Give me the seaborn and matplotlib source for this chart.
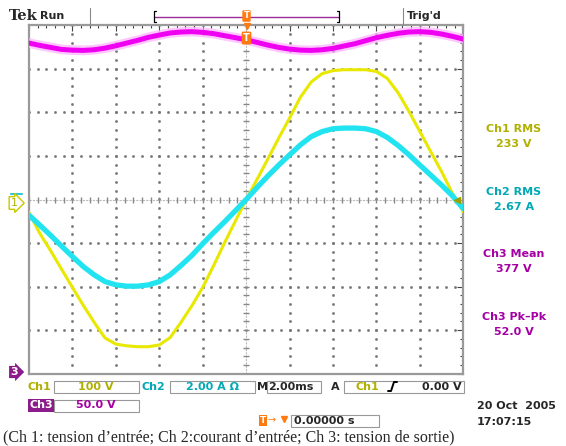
import numpy as np
import pandas as pd
import matplotlib
matplotlib.use("Agg")
import matplotlib.pyplot as plt
from matplotlib.ticker import MultipleLocator
from matplotlib.patches import Rectangle
import seaborn as sns

# time base: 2 ms/div, samples read every 0.5 ms
t_ms = np.arange(-10, 10.01, 0.5)

# Ch1 input voltage (V), 100 V/div
ch1_volts = [-30, -78, -118, -160, -202, -243, -282, -318, -332, -336, -338,
             -338, -334, -317, -282, -244, -202, -152, -100, -50, 0,
             46, 93, 141, 187, 235, 270, 289, 296, 298, 298,
             298, 294, 278, 245, 202, 156, 110, 64, 14, -28]

# Ch2 input current (A), 2 A/div
ch2_amps = [-0.72, -1.18, -1.65, -2.14, -2.62, -3.08, -3.46, -3.77, -3.92, -3.98, -3.98,
            -3.92, -3.77, -3.46, -3.03, -2.57, -2.03, -1.52, -1.03, -0.52, 0.0,
            0.55, 1.08, 1.58, 2.05, 2.51, 2.89, 3.12, 3.25, 3.28, 3.28,
            3.25, 3.12, 2.85, 2.48, 2.05, 1.58, 1.12, 0.66, 0.17, -0.42]

# Ch3 output voltage (V), 50 V/div, ground at bottom of screen
ch3_volts = [379.6, 376.9, 374.6, 372.3, 371.5, 371.2, 371.9, 373.8, 376.5, 379.6, 382.7,
             386.2, 388.8, 391.2, 392.3, 392.7, 391.9, 390.4, 388.1, 385.8, 383.5,
             380.4, 377.3, 374.6, 372.7, 371.5, 371.2, 371.9, 373.5, 376.2, 378.8,
             382.3, 385.8, 388.5, 390.8, 392.3, 392.7, 391.9, 390.0, 387.3, 384.2]

ch1_div, ch2_div, ch3_div = 100.0, 2.0, 50.0
ch3_ground = -4

measures = [("Ch1 RMS", "233 V", "#b0b000"),
            ("Ch2 RMS", "2.67 A", "#00a9b5"),
            ("Ch3 Mean", "377 V", "#a400a4"),
            ("Ch3 Pk\u2013Pk", "52.0 V", "#a400a4")]

YEL, CYAN, MAG = "#e8e800", "#22e4f0", "#f000f0"
ORANGE = "#ff7a10"
PURPLE = "#8c1c8c"

sns.set_style("white")
plt.rcParams["font.family"] = ["DejaVu Sans"]

W, H = 566, 446
fig = plt.figure(figsize=(W / 100, H / 100), dpi=100)


def box(x0, y0, x1, y1):
    return [x0 / W, 1 - y1 / H, (x1 - x0) / W, (y1 - y0) / H]


ax = fig.add_axes(box(29, 25.3, 463.3, 373.7))

df = pd.DataFrame({
    "t": t_ms,
    "ch1": np.array(ch1_volts) / ch1_div,
    "ch2": np.array(ch2_amps) / ch2_div,
    "ch3": np.array(ch3_volts) / ch3_div + ch3_ground,
})

# graticule dots
ydots = np.arange(-4, 4.01, 0.2)
xdots = np.arange(-10, 10.01, 0.4)
for gx in range(-8, 9, 2):
    if gx != 0:
        ax.plot([gx] * len(ydots), ydots, ls="none", marker="s", ms=0.9,
                color="#777777", zorder=1)
for gy in range(-3, 4):
    if gy != 0:
        ax.plot(xdots, [gy] * len(xdots), ls="none", marker="s", ms=0.9,
                color="#777777", zorder=1)
ax.axhline(0, color="#bbbbbb", lw=0.8, ls=(0, (2, 1)), zorder=1)
ax.axvline(0, color="#bbbbbb", lw=0.8, ls=(0, (2, 1)), zorder=1)
ax.plot(xdots, [0] * len(xdots), ls="none", marker="|", ms=4, color="#888888", zorder=1)
ax.plot([0] * len(ydots), ydots, ls="none", marker="_", ms=4, color="#888888", zorder=1)

# traces
sns.lineplot(data=df, x="t", y="ch1", color=YEL, lw=2.2, ax=ax, zorder=3)
sns.lineplot(data=df, x="t", y="ch2", color=CYAN, lw=3.8, ax=ax, zorder=4)
sns.lineplot(data=df, x="t", y="ch3", color="#ffb0ff", lw=7, alpha=0.7, ax=ax, zorder=4)
sns.lineplot(data=df, x="t", y="ch3", color=MAG, lw=3.6, ax=ax, zorder=5)

ax.set_xlim(-10, 10)
ax.set_ylim(-4, 4)
ax.set_xlabel("")
ax.set_ylabel("")
ax.xaxis.set_major_locator(MultipleLocator(2))
ax.xaxis.set_minor_locator(MultipleLocator(0.4))
ax.yaxis.set_major_locator(MultipleLocator(1))
ax.yaxis.set_minor_locator(MultipleLocator(0.2))
ax.tick_params(which="both", direction="in", top=True, right=True,
               labelbottom=False, labelleft=False, color="#444444", width=0.8)
ax.tick_params(which="major", length=4)
ax.tick_params(which="minor", length=2.5)
for s in ax.spines.values():
    s.set_color("#9a9a9a")
    s.set_linewidth(1.6)

# overlay in pixel coordinates for the scope readouts
ov = fig.add_axes([0, 0, 1, 1], facecolor="none", zorder=10)
ov.set_xlim(0, W)
ov.set_ylim(H, 0)
ov.axis("off")

fs = 8
fw = "bold"
# top status bar
ov.text(9, 16, "Tek", fontsize=10.5, fontweight="bold", family="DejaVu Serif", va="center")
ov.text(40, 16, "Run", fontsize=fs, fontweight=fw, va="center")
ov.plot([89.6, 89.6], [8, 25], color="#888888", lw=0.8)
ov.plot([403, 403], [8, 25], color="#888888", lw=0.8)
ov.plot([154, 339], [16.6, 16.6], color="#9b2d9b", lw=1)
ov.plot([156, 154, 154, 156], [11, 11, 22, 22], color="black", lw=0.9)
ov.plot([337, 339, 339, 337], [11, 11, 22, 22], color="black", lw=0.9)
ov.text(407, 16, "Trig'd", fontsize=fs, fontweight=fw, va="center")
ov.text(246.5, 16, "T", fontsize=6, color="white", fontweight="bold", ha="center",
        va="center", bbox=dict(boxstyle="round,pad=0.15", fc=ORANGE, ec="none"))
ov.plot([246.5], [26], marker="v", ms=5, color=ORANGE)
ov.text(246.5, 38, "T", fontsize=7, color="white", fontweight="bold", ha="center",
        va="center", bbox=dict(boxstyle="round,pad=0.15", fc=ORANGE, ec="none"))

# channel markers
ov.plot([11, 22], [193.5, 193.5], color="#30c8d8", lw=1.5)
ov.text(14, 203, "1", fontsize=8, color="#b0b000", ha="center", va="center",
        bbox=dict(boxstyle="rarrow,pad=0.12", fc="white", ec="#c8c800", lw=1))
ov.text(14, 372, "3", fontsize=8, color="white", fontweight="bold", ha="center", va="center",
        bbox=dict(boxstyle="rarrow,pad=0.1", fc=PURPLE, ec="none"))
ov.plot([457], [199.7], marker="<", ms=5, color="#a0a000")

# measurements
for i, (name, val, col) in enumerate(measures):
    y = 129 + i * 62.7
    ov.text(514, y, name, fontsize=fs, fontweight=fw, color=col, ha="center", va="center")
    ov.text(514, y + 15, val, fontsize=fs, fontweight=fw, color=col, ha="center", va="center")

# bottom readouts
for (x0, y0, x1, y1) in [(54, 380.5, 139, 392.5), (170, 380.5, 255, 392.5),
                         (267, 380.5, 321, 392.5), (344, 380.5, 464, 392.5),
                         (54, 399.5, 139, 411.5), (291, 414.5, 379, 426.5)]:
    ov.add_patch(Rectangle((x0, y0), x1 - x0, y1 - y0, fill=False, ec="#999999", lw=0.8))

yr = 386.5
ov.text(28, yr, "Ch1", fontsize=fs, fontweight=fw, color="#b0b000", va="center")
ov.text(96, yr, "100 V", fontsize=fs, fontweight=fw, color="#b0b000", ha="center", va="center")
ov.text(141, yr, "Ch2", fontsize=fs, fontweight=fw, color="#00a9b5", va="center")
ov.text(212, yr, "2.00 A \u03a9", fontsize=fs, fontweight=fw, color="#00a9b5", ha="center", va="center")
ov.text(257, yr, "M", fontsize=fs, fontweight=fw, va="center")
ov.text(268, yr, "2.00ms", fontsize=fs, fontweight=fw, va="center")
ov.text(331, yr, "A", fontsize=fs, fontweight=fw, va="center")
ov.text(355, yr, "Ch1", fontsize=fs, fontweight=fw, color="#b0b000", va="center")
ov.plot([388, 391, 394, 397], [391, 391, 382, 382], color="black", lw=1.4)
ov.text(462, yr, "0.00 V", fontsize=fs, fontweight=fw, ha="right", va="center")

ov.text(29, 405.5, "Ch3", fontsize=fs, fontweight=fw, color="white", va="center",
        bbox=dict(boxstyle="square,pad=0.1", fc=PURPLE, ec="none"))
ov.text(96, 405.5, "50.0 V", fontsize=fs, fontweight=fw, color="#a400a4", ha="center", va="center")

ov.text(263, 420.5, "T", fontsize=6.5, color="white", fontweight="bold", ha="center",
        va="center", bbox=dict(boxstyle="square,pad=0.15", fc=ORANGE, ec="none"))
ov.text(268, 420.5, "\u2192", fontsize=7, color=ORANGE, va="center")
ov.plot([284], [419], marker="v", ms=4.5, color=ORANGE)
ov.text(294, 420.5, "0.00000 s", fontsize=fs, fontweight=fw, va="center")

ov.text(477, 406, "20 Oct  2005", fontsize=fs, fontweight=fw, va="center")
ov.text(477, 422, "17:07:15", fontsize=fs, fontweight=fw, va="center")

ov.text(3, 437, "(Ch 1: tension d\u2019entr\u00e9e; Ch 2:courant d\u2019entr\u00e9e; Ch 3: tension de sortie)",
        fontsize=11.5, family="Liberation Serif", va="center")

fig.savefig("out.png", dpi=100)
